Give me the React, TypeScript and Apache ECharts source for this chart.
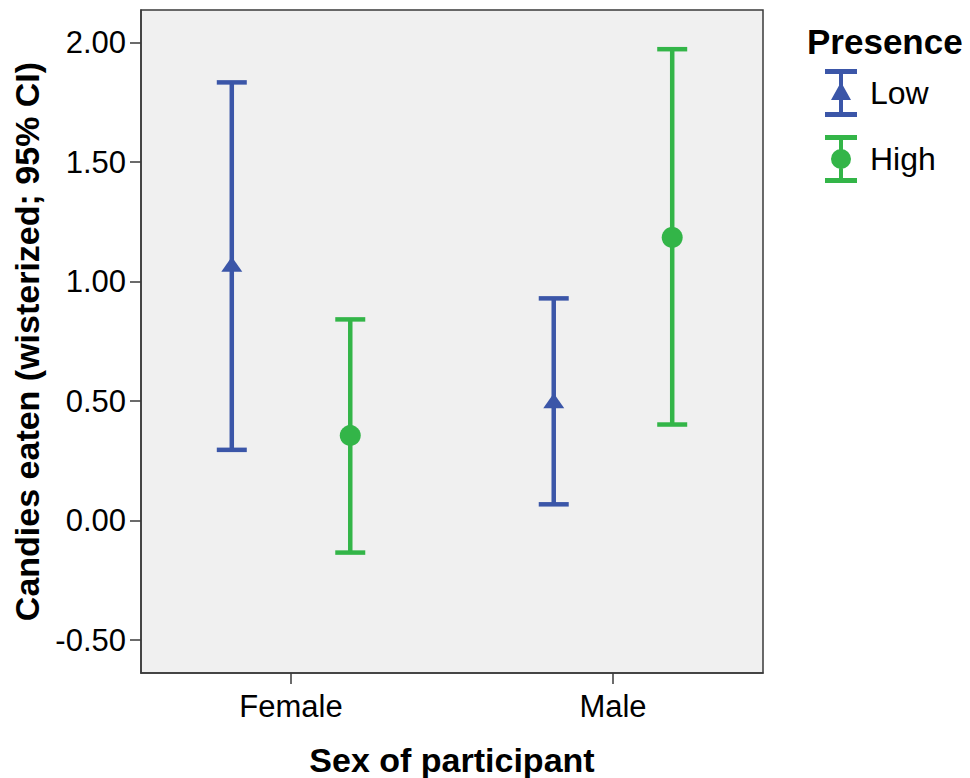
import React, { useEffect, useRef } from "react";
import * as echarts from "echarts";

const categories = ["Female", "Male"];
const seriesNames = ["Low", "High"];
const lowMean = [1.071, 0.499];
const lowLower = [0.296, 0.068];
const lowUpper = [1.834, 0.93];
const highMean = [0.356, 1.185];
const highLower = [-0.134, 0.402];
const highUpper = [0.842, 1.973];
const yTicks = [-0.5, 0, 0.5, 1, 1.5, 2];

const BLUE = "#3b56a8";
const GREEN = "#33b548";
const FONT = "'Liberation Sans', Arial, sans-serif";

const LOW_ICON =
  "path://M0,0H32V5H0Z M0,43H32V48H0Z M14,0H18V48H14Z M16,13L26,31H6Z";
const HIGH_ICON =
  "path://M0,0H32V5H0Z M0,43H32V48H0Z M14,0H18V48H14Z M6,24A10,10 0 1,1 26,24A10,10 0 1,1 6,24Z";

function makeRender(shape: "triangle" | "circle", color: string) {
  return (params: any, api: any) => {
    const x = api.value(0);
    const lo = api.coord([x, api.value(1)]);
    const hi = api.coord([x, api.value(2)]);
    const m = api.coord([x, api.value(3)]);
    const cx = lo[0];
    const sw = 4.5;
    const capW = 30;
    const style = { fill: color };
    const children: any[] = [
      { type: "rect", shape: { x: cx - sw / 2, y: hi[1], width: sw, height: lo[1] - hi[1] }, style },
      { type: "rect", shape: { x: cx - capW / 2, y: hi[1] - sw / 2, width: capW, height: sw }, style },
      { type: "rect", shape: { x: cx - capW / 2, y: lo[1] - sw / 2, width: capW, height: sw }, style },
    ];
    if (shape === "triangle") {
      children.push({
        type: "polygon",
        shape: { points: [[cx, m[1] - 8], [cx + 10.5, m[1] + 7], [cx - 10.5, m[1] + 7]] },
        style,
      });
    } else {
      children.push({ type: "circle", shape: { cx, cy: m[1], r: 10.5 }, style });
    }
    return { type: "group", children };
  };
}

export default function App() {
  const ref = useRef<HTMLDivElement>(null);
  useEffect(() => {
    if (!ref.current) return;
    const chart = echarts.init(ref.current, null, { renderer: "svg" });
    const offset = 0.184;
    const lowData = categories.map((_, i) => [i + 1 - offset, lowLower[i], lowUpper[i], lowMean[i]]);
    const highData = categories.map((_, i) => [i + 1 + offset, highLower[i], highUpper[i], highMean[i]]);
    chart.setOption({
      animation: false,
      textStyle: { fontFamily: FONT },
      title: {
        text: "Presence",
        left: 807,
        top: 24,
        padding: 0,
        textStyle: { fontFamily: FONT, fontSize: 35, fontWeight: "bold", color: "#000" },
      },
      legend: {
        orient: "vertical",
        left: 825,
        top: 69,
        padding: 0,
        itemWidth: 32,
        itemHeight: 48,
        itemGap: 18,
        textStyle: { fontFamily: FONT, fontSize: 32, color: "#000", padding: [0, 0, 0, 8] },
        data: [
          { name: seriesNames[0], icon: LOW_ICON },
          { name: seriesNames[1], icon: HIGH_ICON },
        ],
      },
      grid: {
        left: 141,
        top: 10,
        right: 207,
        bottom: 105,
        show: true,
        backgroundColor: "#f0f0f0",
        borderColor: "#3a3a3a",
        borderWidth: 1.5,
        containLabel: false,
        outerBoundsMode: "none",
      },
      xAxis: {
        type: "value",
        min: 0.534,
        max: 2.466,
        name: "Sex of participant",
        nameLocation: "middle",
        nameGap: 70,
        nameTextStyle: { fontFamily: FONT, fontSize: 34, fontWeight: "bold", color: "#000" },
        splitLine: { show: false },
        axisLine: { show: true, onZero: false, lineStyle: { color: "#3a3a3a", width: 1.5 } },
        axisTick: { show: true, customValues: [1, 2], length: 11, lineStyle: { color: "#3a3a3a", width: 1.5 } },
        axisLabel: {
          customValues: [1, 2],
          formatter: (v: number) => categories[Math.round(v) - 1] ?? "",
          fontFamily: FONT,
          fontSize: 31,
          color: "#000",
          margin: 18,
        },
      },
      yAxis: {
        type: "value",
        min: -0.638,
        max: 2.137,
        name: "Candies eaten (wisterized; 95% CI)",
        nameLocation: "middle",
        nameGap: 97,
        nameTextStyle: { fontFamily: FONT, fontSize: 34, fontWeight: "bold", color: "#000" },
        splitLine: { show: false },
        axisLine: { show: true, onZero: false, lineStyle: { color: "#3a3a3a", width: 1.5 } },
        axisTick: { show: true, customValues: yTicks, length: 11, lineStyle: { color: "#3a3a3a", width: 1.5 } },
        axisLabel: {
          customValues: yTicks,
          formatter: (v: number) => v.toFixed(2),
          fontFamily: FONT,
          fontSize: 31,
          color: "#000",
          margin: 15,
        },
      },
      series: [
        {
          name: seriesNames[0],
          type: "custom",
          itemStyle: { color: BLUE },
          renderItem: makeRender("triangle", BLUE),
          encode: { x: 0, y: [1, 2, 3] },
          data: lowData,
        },
        {
          name: seriesNames[1],
          type: "custom",
          itemStyle: { color: GREEN },
          renderItem: makeRender("circle", GREEN),
          encode: { x: 0, y: [1, 2, 3] },
          data: highData,
        },
      ],
    });
    return () => chart.dispose();
  }, []);
  return (
    <div
      ref={ref}
      style={{ position: "absolute", left: 0, top: 0, width: 970, height: 778 }}
    />
  );
}
